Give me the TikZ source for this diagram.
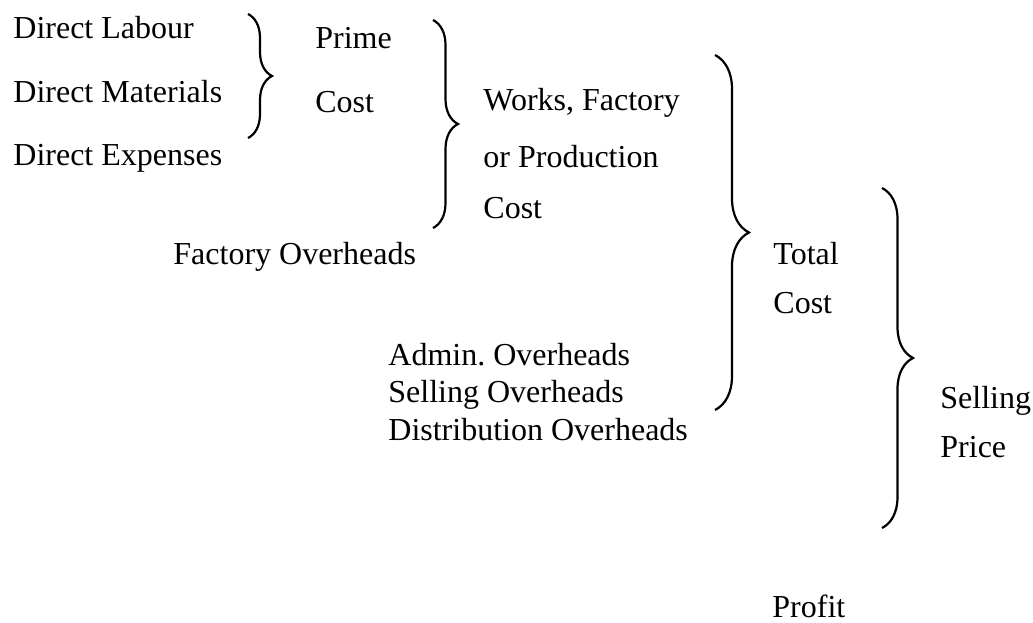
\documentclass[tikz,border=0pt]{standalone}
\usepackage{fontspec}
\setmainfont{Liberation Serif}
\usetikzlibrary{decorations.pathreplacing}

\tikzset{
  lbl/.style={anchor=base west, inner sep=0pt, font=\fontsize{16}{19}\selectfont},
  costbrace/.style={decorate, decoration={brace, amplitude=#1}, line width=1.1pt}
}

\begin{document}
\begin{tikzpicture}[x=0.5pt,y=-0.5pt]
\useasboundingbox (0,0) rectangle (1033,622);

% elements of cost
\node[lbl] (labour) at (13,38) {Direct Labour};
\node[lbl] (materials) at (13,102) {Direct Materials};
\node[lbl] (expenses) at (13,165) {Direct Expenses};

\node[lbl] (prime1) at (315,48) {Prime};
\node[lbl] (prime2) at (315,112) {Cost};

\node[lbl] (works1) at (483,110) {Works, Factory};
\node[lbl] (works2) at (483,167) {or Production};
\node[lbl] (works3) at (483,218) {Cost};

\node[lbl] (factoh) at (173,264) {Factory Overheads};

\node[lbl] (total1) at (773,264) {Total};
\node[lbl] (total2) at (773,313) {Cost};

\node[lbl] (adminoh) at (388,365) {Admin.\ Overheads};
\node[lbl] (sellingoh) at (388,402) {Selling Overheads};
\node[lbl] (distoh) at (388,440) {Distribution Overheads};

\node[lbl] (price1) at (940,408) {Selling};
\node[lbl] (price2) at (940,457) {Price};

\node[lbl] (profit) at (772,617) {Profit};

% braces
\coordinate (pc top) at (248,14);
\coordinate (pc bot) at (248,138);
\draw[costbrace=12pt] (pc top) -- (pc bot);

\coordinate (wc top) at (433,20);
\coordinate (wc bot) at (433,228);
\draw[costbrace=12.5pt] (wc top) -- (wc bot);

\coordinate (tc top) at (715,55);
\coordinate (tc bot) at (715,410);
\draw[costbrace=17pt] (tc top) -- (tc bot);

\coordinate (sp top) at (882,188);
\coordinate (sp bot) at (882,528);
\draw[costbrace=15.5pt] (sp top) -- (sp bot);
\end{tikzpicture}
\end{document}
